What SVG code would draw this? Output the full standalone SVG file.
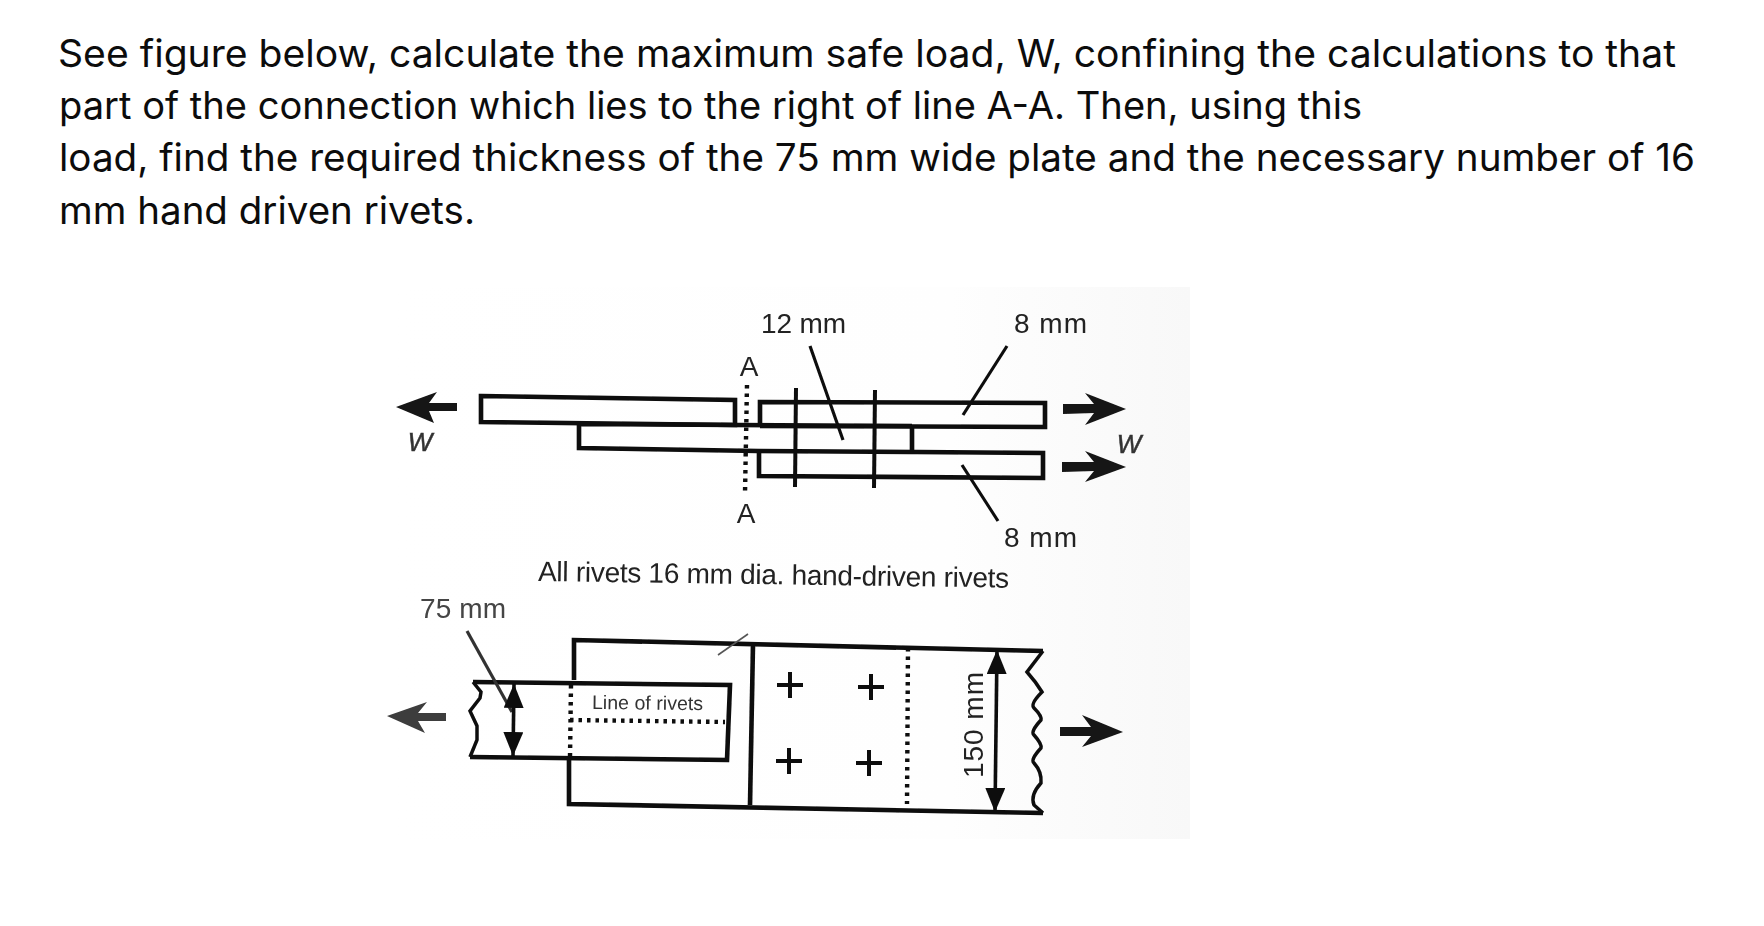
<svg xmlns="http://www.w3.org/2000/svg" width="1764" height="926" viewBox="0 0 1764 926">
<style>
.h{font-family:"Inter","Noto Sans","Liberation Sans",sans-serif;font-size:38px;fill:#0c0c0c}
.t{font-family:"Liberation Sans",Arial,sans-serif;font-size:28px;fill:#222}
.w{font-family:"Liberation Sans",Arial,sans-serif;font-size:26px;font-style:italic;fill:#333;stroke:#333;stroke-width:0.5}
.p{fill:none;stroke:#0c0c0c;stroke-width:4.6;stroke-linejoin:miter}
.thin{fill:none;stroke:#111;stroke-width:3.2}
.riv{fill:none;stroke:#0c0c0c;stroke-width:4}
.dot{fill:none;stroke:#0c0c0c;stroke-width:4.4;stroke-dasharray:3.5 5}
.dim{fill:none;stroke:#111;stroke-width:3.6;marker-start:url(#dh);marker-end:url(#dh)}
.ar{fill:#141414}
</style>
<defs>
<linearGradient id="paper" x1="0" x2="1" y1="0" y2="0">
<stop offset="0" stop-color="#fff"/><stop offset="0.7" stop-color="#fefefe"/><stop offset="1" stop-color="#f8f8f8"/>
</linearGradient>
<marker id="dh" markerUnits="userSpaceOnUse" markerWidth="26" markerHeight="24" refX="24" refY="10" orient="auto-start-reverse">
<path d="M24 10L0 0L0 20Z" fill="#111"/>
</marker>
<filter id="scan" x="-2%" y="-2%" width="104%" height="104%"><feGaussianBlur stdDeviation="0.55"/></filter>
</defs>
<rect width="1764" height="926" fill="#fff"/>
<g id="question">
<text class="h" x="58" y="67" textLength="1618" lengthAdjust="spacingAndGlyphs">See figure below, calculate the maximum safe load, W, confining the calculations to that</text>
<text class="h" x="59" y="119" textLength="1303" lengthAdjust="spacingAndGlyphs">part of the connection which lies to the right of line A-A. Then, using this</text>
<text class="h" x="59" y="171" textLength="1636" lengthAdjust="spacingAndGlyphs">load, find the required thickness of the 75 mm wide plate and the necessary number of 16</text>
<text class="h" x="59" y="224" textLength="416" lengthAdjust="spacingAndGlyphs">mm hand driven rivets.</text>
</g>
<rect id="paper-bg" x="390" y="287" width="800" height="552" fill="url(#paper)"/>
<g id="figure" filter="url(#scan)">
<g id="section-view">
<g id="plate-left"><path class="p" d="M481 396L735 400L735 425L481 422Z"/></g>
<g id="plate-middle"><path class="p" d="M912 426L735 425L579 424L579 448L758 451L912 452"/><path class="p" d="M912 426V452"/></g>
<g id="plate-top-right"><path class="p" d="M760 426V402L1045 403V427L760 426"/></g>
<g id="plate-bottom-right"><path class="p" d="M759 452V476L1043 478V453L912 452"/></g>
<g id="rivet-1"><path class="riv" d="M796 388L795 487"/></g>
<g id="rivet-2"><path class="riv" d="M875 390L874 488"/></g>
<g id="section-A-A"><path class="dot" d="M747 385L745 493"/>
<text class="t" x="749" y="376" text-anchor="middle">A</text>
<text class="t" x="746" y="523" text-anchor="middle">A</text></g>
<text class="t" x="761" y="333" textLength="85">12 mm</text>
<text class="t" x="1014" y="333" textLength="73">8 mm</text>
<text class="t" x="1004" y="547" textLength="73">8 mm</text>
<text class="w" x="420" y="451" text-anchor="middle">W</text>
<text class="w" x="1129" y="453" text-anchor="middle">W</text>
<text class="t" transform="translate(538 581) rotate(0.8)" textLength="471">All rivets 16 mm dia. hand-driven rivets</text>
</g>
<g id="plan-view">
<g id="plate-wide"><path class="p" d="M574 680V640L1043 651M1043 813L569 804V758"/><path class="p" d="M753 644L750 805"/></g>
<g id="plate-narrow"><path class="p" d="M473 682L730 685L727 760L470 757"/></g>
<g id="break-left"><path class="p" style="stroke-width:3.5" d="M473 682L481 692L480 698L470 711L477 726L477 740L470 757"/></g>
<g id="break-right"><path class="p" style="stroke-width:3.5" d="M1043 651L1027 672Q1036 682 1042 692Q1030 704 1034 708Q1042 716 1041 720Q1030 732 1034 735Q1042 744 1041 748Q1030 760 1034 763Q1042 772 1041 783Q1030 795 1034 805L1043 813"/></g>
<g id="rivet-marks"><path class="riv" d="M777 685H803M790 672V698M858 687H884M871 674V700M776 761H802M789 748V774M856 763H882M869 750V776"/></g>
<g id="rivet-lines"><path class="dot" d="M571 685L570 757M570 720L725 722M908 648L907 804"/></g>
<text class="t" x="420" y="618" textLength="86" style="fill:#444">75 mm</text>
<text class="t" transform="translate(592 709) rotate(0.6)" textLength="111" style="font-size:19.5px;fill:#333">Line of rivets</text>
<text class="t" transform="translate(983 778) rotate(-90)" textLength="106">150 mm</text>
<path d="M718 655L748 634" fill="none" stroke="#555" stroke-width="1.6"/>
</g>
<g id="connectors">
<path class="thin" d="M810 346L843 440M1007 346L963 415M962 465L998 521"/>
<path class="thin" style="stroke:#333" d="M467 631L512 712"/>
<path class="dim" d="M514 684L513 756"/>
<path class="dim" d="M997 650L995 812"/>
<g class="ar">
<path d="M396 407L437 392L429 403L457 403L457 411L429 411L434 423Z"/>
<path d="M1126 409L1085 393L1094 404L1063 404V414L1094 413L1085 425Z"/>
<path d="M1126 467L1085 451L1094 462L1062 462V472L1094 471L1085 482Z"/>
<path style="fill:#3c3c3c" d="M387 716L427 702L418 713L446 713L446 721L418 721L425 733Z"/>
<path d="M1123 732L1082 715L1091 727L1060 727V736L1091 736L1082 747Z"/>
</g>
</g>
</g>
</svg>
